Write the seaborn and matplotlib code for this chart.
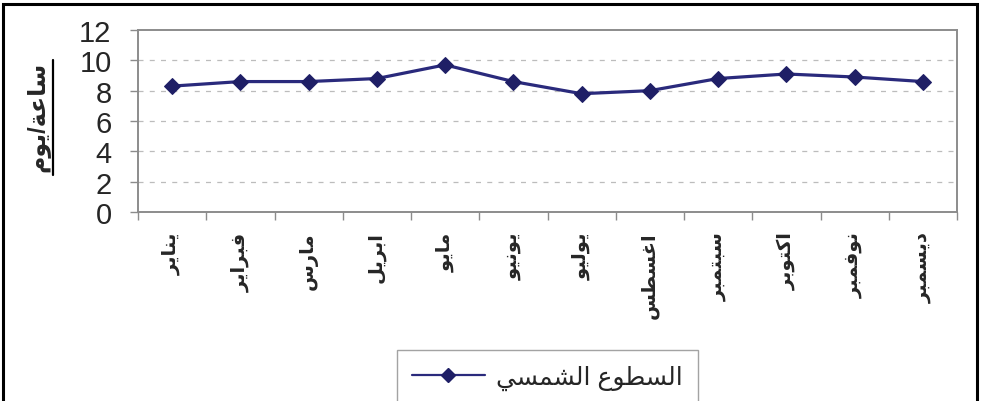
import numpy as np
import pandas as pd
import matplotlib
matplotlib.use("Agg")
import matplotlib.pyplot as plt
from matplotlib.lines import Line2D
from matplotlib.patches import Rectangle
import seaborn as sns

# ---- data -------------------------------------------------------------
months = ["يناير", "فبراير", "مارس", "ابريل", "مايو", "يونيو",
          "يوليو", "اغسطس", "سبتمبر", "اكتوبر", "نوفمبر", "ديسمبر"]
sunshine = [8.3, 8.6, 8.6, 8.8, 9.7, 8.6, 7.8, 8.0, 8.8, 9.1, 8.9, 8.6]
series_name = "السطوع الشمسي"
y_label = "ساعة/يوم"
y_ticks = [0, 2, 4, 6, 8, 10, 12]

# ---- minimal Arabic shaping (contextual forms + right-to-left order) ---
FORMS = {  # isolated, final, initial, medial
    "ا": (0xFE8D, 0xFE8E, None, None),
    "ب": (0xFE8F, 0xFE90, 0xFE91, 0xFE92),
    "ة": (0xFE93, 0xFE94, None, None),
    "ت": (0xFE95, 0xFE96, 0xFE97, 0xFE98),
    "د": (0xFEA9, 0xFEAA, None, None),
    "ر": (0xFEAD, 0xFEAE, None, None),
    "س": (0xFEB1, 0xFEB2, 0xFEB3, 0xFEB4),
    "ش": (0xFEB5, 0xFEB6, 0xFEB7, 0xFEB8),
    "ط": (0xFEC1, 0xFEC2, 0xFEC3, 0xFEC4),
    "ع": (0xFEC9, 0xFECA, 0xFECB, 0xFECC),
    "غ": (0xFECD, 0xFECE, 0xFECF, 0xFED0),
    "ف": (0xFED1, 0xFED2, 0xFED3, 0xFED4),
    "ك": (0xFED9, 0xFEDA, 0xFEDB, 0xFEDC),
    "ل": (0xFEDD, 0xFEDE, 0xFEDF, 0xFEE0),
    "م": (0xFEE1, 0xFEE2, 0xFEE3, 0xFEE4),
    "ن": (0xFEE5, 0xFEE6, 0xFEE7, 0xFEE8),
    "و": (0xFEED, 0xFEEE, None, None),
    "ي": (0xFEF1, 0xFEF2, 0xFEF3, 0xFEF4),
}


def dual(ch):
    return ch in FORMS and FORMS[ch][2] is not None


def shape(text):
    out = []
    for i, ch in enumerate(text):
        if ch not in FORMS:
            out.append(ch)
            continue
        prev = text[i - 1] if i > 0 else ""
        nxt = text[i + 1] if i + 1 < len(text) else ""
        jp = dual(prev)
        jn = dual(ch) and nxt in FORMS
        iso, fin, ini, med = FORMS[ch]
        code = med if (jp and jn) else fin if jp else ini if jn else iso
        out.append(chr(code))
    return "".join(reversed(out))


# ---- style ------------------------------------------------------------
sns.set_theme(style="white")
plt.rcParams["font.family"] = ["Liberation Sans", "DejaVu Sans"]

navy = "#2a2a7c"
marker_navy = "#1f1f66"
frame_gray = "#8c8c8c"

df = pd.DataFrame({"pos": np.arange(len(months)), "value": sunshine})

fig = plt.figure(figsize=(9.82, 4.02), dpi=100)
ax = fig.add_axes([138 / 982, 1 - 213 / 402, 819 / 982, 182 / 402])

sns.lineplot(data=df, x="pos", y="value", ax=ax, color=navy, lw=2.3,
             marker="D", markersize=8.5, markerfacecolor=marker_navy,
             markeredgecolor=marker_navy, label=shape(series_name),
             sort=False, legend=False)

ax.set_xlim(-0.5, len(months) - 0.5)
ax.set_ylim(0, 12)
ax.set_yticks(y_ticks)
ax.set_yticklabels([str(t) for t in y_ticks], fontsize=21)
ax.tick_params(axis="y", length=6, width=1, color=frame_gray, pad=13,
               direction="out", left=True)

ax.set_xticks(np.arange(len(months)))
ax.set_xticklabels([shape(m) for m in months], rotation=90, fontsize=14,
                   fontweight="bold", va="top", ha="center")
ax.tick_params(axis="x", which="major", length=0, pad=14)
ax.set_xticks(np.arange(len(months) + 1) - 0.5, minor=True)
ax.tick_params(axis="x", which="minor", length=6, width=1, color=frame_gray,
               direction="out", bottom=True)
ax.set_xlabel("")

for y in y_ticks[1:-1]:
    ax.axhline(y, color="#bcbcbc", lw=0.9, ls=(0, (4, 5)), zorder=0)

for sp in ax.spines.values():
    sp.set_color(frame_gray)
    sp.set_linewidth(1.4)

ylab = ax.set_ylabel(shape(y_label), fontsize=17, fontweight="bold",
                     rotation=90)
ax.yaxis.set_label_coords(-0.108, 0.53)

leg_handle = Line2D([], [], color=navy, lw=1.6, marker="D", markersize=7.5,
                    markerfacecolor=marker_navy, markeredgecolor=marker_navy)
leg = fig.legend([leg_handle], [shape(series_name)], loc="upper left",
                 bbox_to_anchor=(397 / 982, 1 - 351 / 402), fontsize=18,
                 frameon=True, fancybox=False, handlelength=2.9,
                 handletextpad=0.45, borderpad=0.6, borderaxespad=0)
leg.get_frame().set_edgecolor(frame_gray)
leg.get_frame().set_linewidth(1.0)

# outer chart frame
fig.add_artist(Rectangle((3 / 982, -0.2), 974 / 982, 1.2 - 5 / 402,
                         transform=fig.transFigure, fill=False,
                         edgecolor="black", lw=2.2))

# underline for the axis title
fig.canvas.draw()
bb = ylab.get_window_extent().transformed(fig.transFigure.inverted())
fig.add_artist(Line2D([bb.x1 + 3 / 982] * 2, [bb.y0 - 4 / 402, bb.y1],
                      transform=fig.transFigure, color="black", lw=1.6))

fig.savefig("out.png", dpi=100)
